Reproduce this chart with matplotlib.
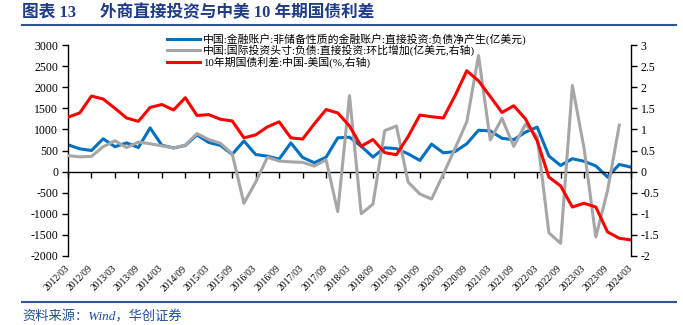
import numpy as np
import matplotlib
matplotlib.use('Agg')
import matplotlib.pyplot as plt
from matplotlib.lines import Line2D

plt.rcParams['font.family'] = ['Liberation Serif', 'Noto Sans CJK SC']
plt.rcParams['axes.unicode_minus'] = False

# quarterly, 2012Q1 - 2024Q1
tick_labels = ['2012/03', '2012/09', '2013/03', '2013/09', '2014/03', '2014/09',
               '2015/03', '2015/09', '2016/03', '2016/09', '2017/03', '2017/09',
               '2018/03', '2018/09', '2019/03', '2019/09', '2020/03', '2020/09',
               '2021/03', '2021/09', '2022/03', '2022/09', '2023/03', '2023/09',
               '2024/03']

# 直接投资负债净产生 (亿美元, 左轴)
fdi_liab = [635, 540, 500, 778, 590, 680, 570, 1035, 625, 560,
            620, 870, 690, 620, 410, 725, 405, 365, 295, 680,
            335, 210, 340, 800, 815, 600, 345, 565, 545, 420,
            265, 650, 445, 475, 660, 980, 965, 790, 755, 935,
            1055, 370, 145, 305, 245, 135, -130, 170, 105]

# 国际投资头寸 直接投资负债环比增加 (右轴)
iip_change = [0.38, 0.35, 0.36, 0.59, 0.73, 0.57, 0.70, 0.66, 0.61, 0.56,
              0.63, 0.90, 0.76, 0.67, 0.42, -0.75, -0.25, 0.34, 0.25, 0.23,
              0.22, 0.13, 0.28, -0.95, 1.80, -1.00, -0.77, 0.97, 1.08, -0.25,
              -0.53, -0.65, -0.06, 0.55, 1.18, 2.75, 0.75, 1.26, 0.60, 1.12,
              0.83, -1.45, -1.70, 2.04, 0.55, -1.55, -0.45, 1.10, np.nan]

# 10年期国债利差 中国-美国 (%, 右轴)
spread = [1.29, 1.39, 1.79, 1.72, 1.50, 1.27, 1.19, 1.52, 1.59, 1.46,
          1.75, 1.33, 1.35, 1.24, 1.20, 0.80, 0.87, 1.06, 1.18, 0.80,
          0.77, 1.13, 1.47, 1.39, 1.08, 0.60, 0.76, 0.45, 0.40, 0.83,
          1.34, 1.30, 1.27, 1.80, 2.39, 2.15, 1.78, 1.40, 1.56, 1.25,
          0.73, -0.13, -0.34, -0.84, -0.75, -0.84, -1.43, -1.58, -1.62]

names = ['中国:金融账户:非储备性质的金融账户:直接投资:负债净产生(亿美元)',
         '中国:国际投资头寸:负债:直接投资:环比增加(亿美元,右轴)',
         '10年期国债利差:中国-美国(%,右轴)']

navy = '#1f3c88'
x = np.arange(len(fdi_liab))

fig = plt.figure(figsize=(6.83, 3.25), dpi=100)
ax = fig.add_axes([68 / 683, 1 - 256 / 325, (631 - 68) / 683, (256 - 45) / 325])
ax2 = ax.twinx()

l1, = ax.plot(x, fdi_liab, color='#0070C0', lw=2.2, label=names[0])
l2, = ax2.plot(x, iip_change, color='#A6A6A6', lw=2.2, label=names[1])
l3, = ax2.plot(x, spread, color='#FF0000', lw=2.2, label=names[2])

ax.set_xlim(0, len(x) - 1)
ax.set_ylim(-2000, 3000)
ax2.set_ylim(-2, 3)
ax.set_yticks(np.arange(-2000, 3001, 500))
ax2.set_yticks(np.arange(-2, 3.01, 0.5))
ax2.yaxis.set_major_formatter(lambda v, p: f'{v:g}')

for s in ['top', 'right']:
    ax.spines[s].set_visible(False)
for s in ['top', 'bottom', 'left']:
    ax2.spines[s].set_visible(False)
ax.spines['bottom'].set_position(('data', 0))
for s in [ax.spines['left'], ax.spines['bottom'], ax2.spines['right']]:
    s.set_linewidth(1)
    s.set_color('black')

ax.set_xticks(x[::2])
ax.tick_params(axis='x', direction='out', length=4, width=1, labelbottom=False)
ax.tick_params(axis='y', direction='out', length=4, width=1, labelsize=8.5, pad=3)
ax2.tick_params(axis='y', direction='out', length=4, width=1, labelsize=8.5, pad=3)

# x labels sit at the bottom of the plot area
sec = ax.secondary_xaxis('bottom')
sec.set_xticks(x[::2], labels=tick_labels)
sec.spines['bottom'].set_visible(False)
sec.tick_params(length=0, pad=8, labelsize=7)
for lab in sec.get_xticklabels():
    lab.set_rotation(45)
    lab.set_ha('right')
    lab.set_va('center')
    lab.set_rotation_mode('anchor')

fig.legend([l1, l2, l3], names, loc='upper left',
           bbox_to_anchor=(167 / 683, 1 - 33 / 325), frameon=False,
           fontsize=7.8, handlelength=3, handletextpad=0.3,
           labelspacing=0.0, borderpad=0, borderaxespad=0)

fig.text(22 / 683, 1 - 13 / 325, '图表 13', fontsize=12, fontweight='bold',
         color=navy, va='center')
fig.text(100 / 683, 1 - 13 / 325, '外商直接投资与中美 10 年期国债利差', fontsize=12,
         fontweight='bold', color=navy, va='center')
fig.add_artist(Line2D([22 / 683, 676 / 683], [1 - 25 / 325] * 2, color='#2f5597', lw=1.5))
fig.add_artist(Line2D([22 / 683, 676 / 683], [1 - 302 / 325] * 2, color='#2f5597', lw=1.5))
fig.text(22 / 683, 1 - 317 / 325, '资料来源：Wind，华创证券', fontsize=9.5,
         color='#1f4e9a', style='italic', va='center')

fig.savefig('out.png', dpi=100)
